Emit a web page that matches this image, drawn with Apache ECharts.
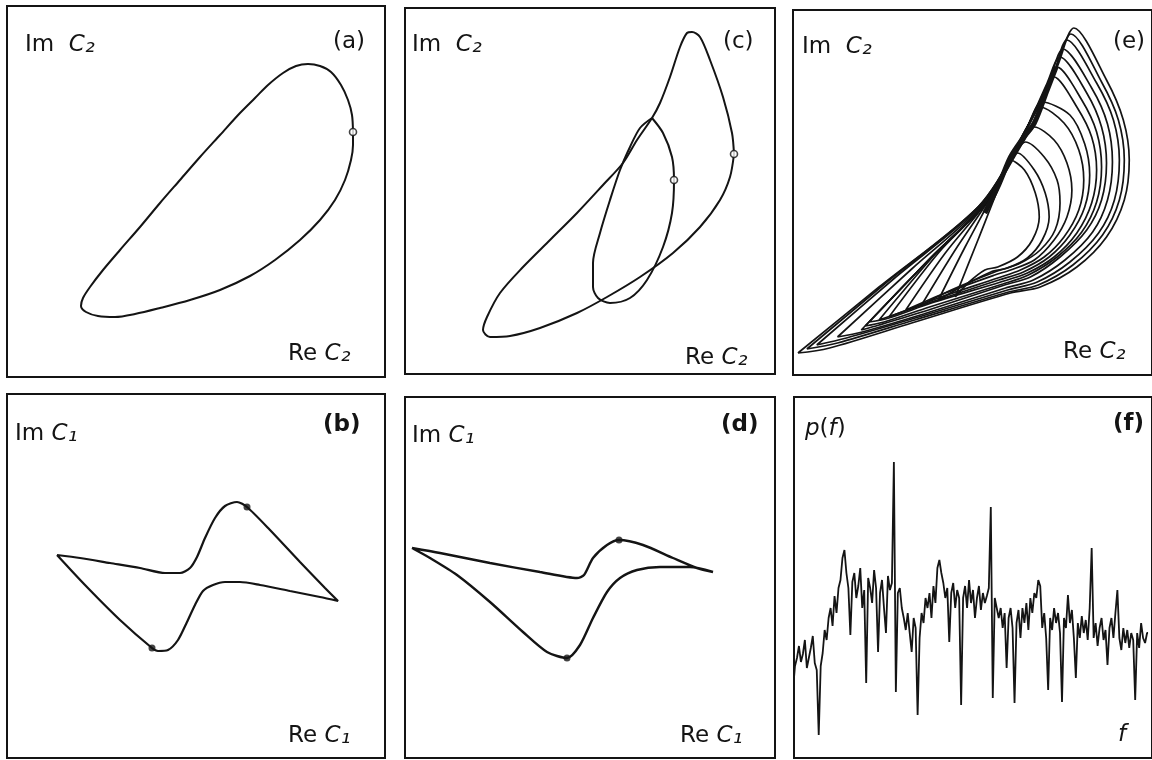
<!DOCTYPE html>
<html>
<head>
<meta charset="utf-8">
<script src="https://cdn.jsdelivr.net/npm/echarts/dist/echarts.min.js"></script>
<style>
  html, body { margin: 0; background: #fff; }
  #main { width: 1152px; height: 760px; }
</style>
</head>
<body>
<div id="main"></div>
<script>
// phase portraits, [Re, Im] in arbitrary units

// (a) limit cycle
var loopA = [[346,245],[345,262],[341,277],[334,292],[324,305],[313,311],[301,313],[289,311],[276,304],[261,292],[248,279],[233,264],[213,242],[193,220],[173,197],[153,174],[133,150],[113,127],[96,107],[83,90],[76,79],[74,71],[79,65],[91,61],[108,60],[128,63],[153,69],[183,77],[213,87],[243,101],[268,117],[293,137],[313,157],[328,177],[338,197],[344,217],[346,232],[346,245]];
var dotsA = [[346,245]];

// (c) period two: big lap and small lap
var loopCOuter = [[329,220],[327,241],[318,277],[305,314],[295,337],[287,342],[282,341],[275,327],[265,297],[255,271],[247,256],[232,234],[218,211],[198,189],[172,161],[145,134],[118,107],[95,81],[82,57],[78,44],[85,37],[105,38],[135,46],[172,61],[202,77],[235,97],[268,121],[295,147],[315,174],[325,197],[329,220]];
var loopCInner = [[247,256],[258,241],[267,217],[269,194],[267,161],[258,127],[242,94],[225,76],[205,71],[193,76],[188,87],[188,111],[195,141],[205,174],[215,204],[225,227],[235,246],[247,256]];
var dotsC = [[329,220],[269,194]];

// (e) chaotic attractor, nested laps from inner to outer
var lapsE = [
  [[164,78],[187,135],[207,185],[220,215],[234,205],[245,182],[249,158],[242,135],[227,118],[207,108],[194,105],[177,92],[164,78]],
  [[147,75],[174,128],[202,180],[220,215],[227,222],[244,205],[255,182],[259,158],[252,135],[237,117],[217,107],[200,103],[170,88],[147,75]],
  [[130,70],[164,125],[200,178],[227,225],[235,233],[254,218],[267,195],[270,172],[265,145],[250,125],[230,112],[204,103],[160,85],[130,70]],
  [[114,65],[154,122],[199,177],[234,235],[244,248],[264,235],[277,212],[282,185],[277,158],[264,135],[244,115],[220,105],[204,100],[154,82],[114,65]],
  [[97,58],[147,122],[197,175],[237,248],[250,268],[274,252],[289,225],[294,195],[289,165],[274,138],[254,118],[230,105],[207,97],[147,77],[97,58]],
  [[87,55],[143,120],[196,174],[236,246],[252,273],[280,260],[295,231],[300,200],[295,168],[280,140],[259,118],[233,103],[208,95],[143,74],[87,55]],
  [[77,53],[140,118],[195,173],[235,245],[254,278],[264,298],[287,268],[302,238],[307,205],[302,172],[287,142],[264,118],[237,102],[210,93],[140,72],[97,57],[77,53]],
  [[73,49],[138,116],[194,172],[234,243],[256,285],[267,308],[292,275],[307,243],[312,208],[307,173],[292,143],[267,118],[238,100],[212,91],[138,68],[92,53],[73,49]],
  [[69,45],[137,115],[194,172],[234,242],[257,292],[270,318],[297,282],[312,248],[317,212],[312,175],[297,145],[270,118],[240,98],[214,90],[137,65],[87,50],[69,45]],
  [[45,38],[120,106],[192,171],[232,238],[260,297],[273,326],[302,287],[318,251],[323,213],[318,175],[303,143],[275,115],[243,95],[215,87],[132,61],[70,43],[45,38]],
  [[24,30],[104,98],[190,170],[230,235],[264,303],[277,335],[307,292],[324,255],[330,215],[325,175],[309,142],[280,113],[247,93],[217,85],[127,58],[54,37],[24,30]],
  [[14,26],[95,93],[188,169],[228,231],[265,305],[281,341],[312,293],[329,255],[335,215],[330,175],[313,140],[283,110],[248,90],[218,83],[123,55],[45,32],[14,26]],
  [[5,22],[87,88],[187,168],[227,228],[267,308],[284,347],[317,295],[334,255],[340,215],[335,175],[317,138],[287,108],[250,88],[220,82],[120,52],[37,27],[5,22]]
];
var spineE = [[194,162],[208,190],[220,218],[232,236],[244,252],[257,285],[266,308]];

// (b) and (d) the C1 projections
var loopB = [[50,203],[73,200],[103,195],[133,190],[158,185],[173,185],[183,190],[190,201],[198,220],[208,240],[218,252],[230,256],[240,251],[263,228],[293,196],[318,170],[331,157],[313,161],[283,167],[253,173],[233,176],[218,176],[206,173],[196,167],[188,153],[180,136],[171,118],[161,108],[151,107],[145,110],[113,138],[78,173],[50,203]];
var dotsB = [[240,251],[145,110]];
var loopD = [[7,210],[35,205],[85,195],[135,186],[172,180],[179,183],[188,200],[202,213],[214,218],[238,213],[268,200],[292,190],[308,186],[285,191],[255,191],[232,188],[215,180],[202,166],[188,140],[175,113],[162,100],[142,106],[118,126],[85,156],[52,183],[25,200],[7,210]];
var dotsD = [[214,218],[162,100]];

// (f) power spectrum
var freqF = [0,2,4,6,8,10,12,14,16,18,20,22,24,26,28,30,32,34,36,38,40,42,44,46,48,50,52,54,56,58,60,62,64,66,68,70,72,74,76,78,80,82,84,86,88,90,92,94,96,98,100,102,104,106,108,110,112,114,116,118,120,122,124,126,128,130,132,134,136,138,140,142,144,146,148,150,152,154,156,158,160,162,164,166,168,170,172,174,176,178,180,182,184,186,188,190,192,194,196,198,200,202,204,206,208,210,212,214,216,218,220,222,224,226,228,230,232,234,236,238,240,242,244,246,248,250,252,254,256,258,260,262,264,266,268,270,272,274,276,278,280,282,284,286,288,290,292,294,296,298,300,302,304,306,308,310,312,314,316,318,320,322,324,326,328,330,332,334,336,338,340,342,344,346,348,350,352,354,356,358];
var powerF = [80,92,100,112,96,104,118,90,100,110,122,95,88,23,92,105,128,118,140,150,132,162,145,170,178,200,208,185,170,123,176,185,160,172,190,150,168,75,180,170,155,188,170,106,165,178,150,125,182,168,175,296,66,165,170,150,140,128,145,125,106,140,130,43,120,145,135,160,150,165,140,172,155,190,198,185,175,160,170,116,165,175,150,168,160,53,160,172,150,178,155,168,140,160,172,148,165,155,162,170,251,60,160,150,140,150,130,145,90,140,150,130,55,135,148,120,150,135,155,128,160,145,165,160,178,172,130,145,120,68,140,128,150,135,145,125,56,140,130,163,135,148,120,80,135,120,142,125,138,118,150,210,120,135,112,130,140,118,128,93,130,140,120,145,168,120,108,130,115,128,110,125,118,58,125,110,135,120,115,125];

var panels = [
  { left: 7,   top: 6,   w: 378, h: 371 },   // a
  { left: 405, top: 8,   w: 370, h: 366 },   // c
  { left: 793, top: 10,  w: 363, h: 365 },   // e
  { left: 7,   top: 394, w: 378, h: 364 },   // b
  { left: 405, top: 397, w: 370, h: 361 },   // d
  { left: 794, top: 397, w: 362, h: 361 }    // f
];

var ink = '#141414';
var font = 'DejaVu Sans';

var chart = echarts.init(document.getElementById('main'));

var grids = [], xAxes = [], yAxes = [];
panels.forEach(function (p) {
  grids.push({ left: p.left, top: p.top, width: p.w, height: p.h, show: true, borderColor: ink, borderWidth: 2, backgroundColor: '#fff' });
  xAxes.push({ gridIndex: grids.length - 1, type: 'value', min: 0, max: p.w, show: false });
  yAxes.push({ gridIndex: grids.length - 1, type: 'value', min: 0, max: p.h, show: false });
});

function curve(idx, data, width, smooth) {
  return {
    type: 'line', xAxisIndex: idx, yAxisIndex: idx, data: data,
    showSymbol: false, smooth: smooth, silent: true,
    lineStyle: { color: ink, width: width }
  };
}
function dots(idx, data, open) {
  return {
    type: 'scatter', xAxisIndex: idx, yAxisIndex: idx, data: data,
    symbolSize: 7, silent: true, z: 5,
    itemStyle: open ? { color: '#fff', borderColor: ink, borderWidth: 1.6 } : { color: ink }
  };
}

var series = [
  curve(0, loopA, 2, 0.3), dots(0, dotsA, true),
  curve(1, loopCOuter, 2, 0.3), curve(1, loopCInner, 2, 0.3), dots(1, dotsC, true),
  curve(3, loopB, 2.2, 0.25), dots(3, dotsB, false),
  curve(4, loopD, 2.4, 0.25), dots(4, dotsD, false)
];
lapsE.forEach(function (lap) { series.push(curve(2, lap, 1.7, 0.3)); });
series.push(curve(2, spineE, 5, 0.3));
series.push({
  type: 'line', xAxisIndex: 5, yAxisIndex: 5, step: 'middle', showSymbol: false, silent: true,
  data: freqF.map(function (f, i) { return [f, powerF[i]]; }),
  lineStyle: { color: ink, width: 1.8 }
});

function label(text, left, top) {
  return {
    text: text, left: left, top: top, padding: 0,
    textStyle: {
      fontFamily: font, fontSize: 23, fontWeight: 'normal', color: ink,
      rich: {
        n: { fontFamily: font, fontSize: 23, color: ink },
        b: { fontFamily: font, fontSize: 23, fontWeight: 'bold', color: ink },
        i: { fontFamily: font, fontSize: 23, fontStyle: 'italic', color: ink },
        s: { fontFamily: font, fontSize: 25, fontStyle: 'italic', color: ink }
      }
    }
  };
}

var titles = [
  label('{n|Im  }{i|C}{s|₂}', 25, 33), label('{n|(a)}', 333, 31), label('{n|Re }{i|C}{s|₂}', 288, 342),
  label('{n|Im  }{i|C}{s|₂}', 412, 33), label('{n|(c)}', 723, 31), label('{n|Re }{i|C}{s|₂}', 685, 346),
  label('{n|Im  }{i|C}{s|₂}', 802, 35), label('{n|(e)}', 1113, 31), label('{n|Re }{i|C}{s|₂}', 1063, 340),
  label('{n|Im }{i|C}{s|₁}', 15, 422), label('{b|(b)}', 323, 414), label('{n|Re }{i|C}{s|₁}', 288, 724),
  label('{n|Im }{i|C}{s|₁}', 412, 424), label('{b|(d)}', 721, 414), label('{n|Re }{i|C}{s|₁}', 680, 724),
  label('{i|p}{n|(}{i|f}{n|)}', 805, 418), label('{b|(f)}', 1113, 413), label('{i|f}', 1118, 724)
];

chart.setOption({
  animation: false,
  backgroundColor: '#fff',
  title: titles,
  grid: grids,
  xAxis: xAxes,
  yAxis: yAxes,
  series: series
});
</script>
</body>
</html>
